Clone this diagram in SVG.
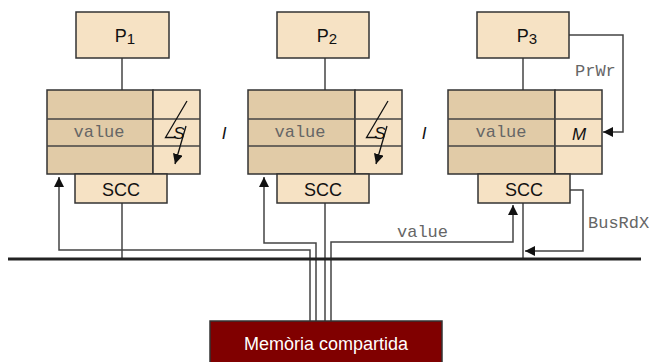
<svg xmlns="http://www.w3.org/2000/svg" width="652" height="362" viewBox="0 0 652 362">
<style>
.proc{fill:#f6e2c4;stroke:#333;stroke-width:1.5}
.dark{fill:#e1cba7;stroke:#333;stroke-width:1.5}
.light{fill:#f6e2c4;stroke:#333;stroke-width:1.5}
.ln{fill:none;stroke:#444;stroke-width:1.5}
.sans{font-family:"Liberation Sans",Arial,sans-serif;fill:#111}
.mono{font-family:"Liberation Mono","Courier New",monospace;fill:#666;font-size:17px}
.ital{font-family:"Liberation Sans",Arial,sans-serif;font-style:italic;fill:#111;font-size:17px}
</style>
<defs>
<marker id="ah" viewBox="0 0 10 10" refX="10" refY="5" markerWidth="10" markerHeight="10" markerUnits="userSpaceOnUse" orient="auto">
<path d="M0,0 L10,5 L0,10 z" fill="#111"/>
</marker>
<marker id="ahs" viewBox="0 0 10 10" refX="10" refY="5" markerWidth="10" markerHeight="10" markerUnits="userSpaceOnUse" orient="auto">
<path d="M0,0 L10,5 L0,10 z" fill="#111"/>
</marker>
</defs>

<g id="connectors">
<line class="ln" x1="122" y1="58" x2="122" y2="90"/>
<line class="ln" x1="325" y1="58" x2="325" y2="90"/>
<line class="ln" x1="523" y1="58" x2="523" y2="90"/>
<line class="ln" x1="122" y1="203" x2="122" y2="259"/>
<path class="ln" d="M310,321 V250 H59 V177" marker-end="url(#ah)"/>
<path class="ln" d="M316,321 V243 H264 V177" marker-end="url(#ah)"/>
<line class="ln" x1="325" y1="203" x2="325" y2="321"/>
<path class="ln" d="M331,321 V242 H513 V205" marker-end="url(#ah)"/>
<line class="ln" x1="523" y1="203" x2="523" y2="259"/>
<path class="ln" d="M570,190 H583 V251 H525" marker-end="url(#ah)"/>
<path class="ln" d="M569,35 H623 V132 H603" marker-end="url(#ah)"/>
<text class="mono" x="397" y="237">value</text>
<text class="mono" x="575" y="76">PrWr</text>
<text class="mono" x="588" y="228">BusRdX</text>
</g>

<g id="bus">
<line x1="8" y1="259" x2="641" y2="259" stroke="#222" stroke-width="3"/>
</g>

<g id="P1">
<rect class="proc" x="76" y="12" width="93" height="46"/>
<text class="sans" x="125" y="42" font-size="18" text-anchor="middle">P<tspan font-size="15" dy="2">1</tspan></text>
</g>
<g id="P2">
<rect class="proc" x="277" y="12" width="92" height="46"/>
<text class="sans" x="327" y="42" font-size="18" text-anchor="middle">P<tspan font-size="15" dy="2">2</tspan></text>
</g>
<g id="P3">
<rect class="proc" x="477" y="12" width="92" height="46"/>
<text class="sans" x="527" y="42" font-size="18" text-anchor="middle">P<tspan font-size="15" dy="2">3</tspan></text>
</g>

<g id="cache1">
<rect class="dark" x="47" y="90" width="106" height="84"/>
<rect class="light" x="153" y="90" width="47" height="84"/>
<line class="ln" x1="47" y1="119" x2="200" y2="119" stroke="#333"/>
<line class="ln" x1="47" y1="146" x2="200" y2="146" stroke="#333"/>
<text class="mono" x="99" y="137" text-anchor="middle">value</text>
<text class="ital" x="179" y="139" font-size="17" text-anchor="middle">S</text>
<polyline points="187,101 165.5,137.5 176,137.5" fill="none" stroke="#111" stroke-width="1.3"/>
<line x1="186" y1="126" x2="175" y2="164" stroke="#111" stroke-width="1.3" marker-end="url(#ahs)"/>
</g>
<g id="cache2">
<rect class="dark" x="248" y="90" width="107" height="84"/>
<rect class="light" x="355" y="90" width="47" height="84"/>
<line class="ln" x1="248" y1="119" x2="402" y2="119" stroke="#333"/>
<line class="ln" x1="248" y1="146" x2="402" y2="146" stroke="#333"/>
<text class="mono" x="300" y="137" text-anchor="middle">value</text>
<text class="ital" x="380" y="139" font-size="17" text-anchor="middle">S</text>
<polyline points="388,101 366.5,137.5 377,137.5" fill="none" stroke="#111" stroke-width="1.3"/>
<line x1="387" y1="126" x2="376" y2="164" stroke="#111" stroke-width="1.3" marker-end="url(#ahs)"/>
</g>
<g id="cache3">
<rect class="dark" x="448" y="90" width="107" height="84"/>
<rect class="light" x="555" y="90" width="47" height="84"/>
<line class="ln" x1="448" y1="119" x2="602" y2="119" stroke="#333"/>
<line class="ln" x1="448" y1="146" x2="602" y2="146" stroke="#333"/>
<text class="mono" x="501" y="137" text-anchor="middle">value</text>
<text class="ital" x="579" y="140" text-anchor="middle">M</text>
</g>

<g id="sep">
<text class="ital" x="224" y="139" text-anchor="middle">I</text>
<text class="ital" x="424" y="139" text-anchor="middle">I</text>
</g>

<g id="SCC1">
<rect class="proc" x="75" y="174" width="92" height="29"/>
<text class="sans" x="121" y="196" font-size="18" text-anchor="middle">SCC</text>
</g>
<g id="SCC2">
<rect class="proc" x="277" y="174" width="92" height="29"/>
<text class="sans" x="323" y="196" font-size="18" text-anchor="middle">SCC</text>
</g>
<g id="SCC3">
<rect class="proc" x="478" y="174" width="92" height="29"/>
<text class="sans" x="524" y="196" font-size="18" text-anchor="middle">SCC</text>
</g>

<g id="memory">
<rect x="210" y="321" width="232" height="50" fill="#800000" stroke="#333" stroke-width="1.5"/>
<text class="sans" x="326" y="350" font-size="18" text-anchor="middle" style="fill:#fff">Memòria compartida</text>
</g>
</svg>
